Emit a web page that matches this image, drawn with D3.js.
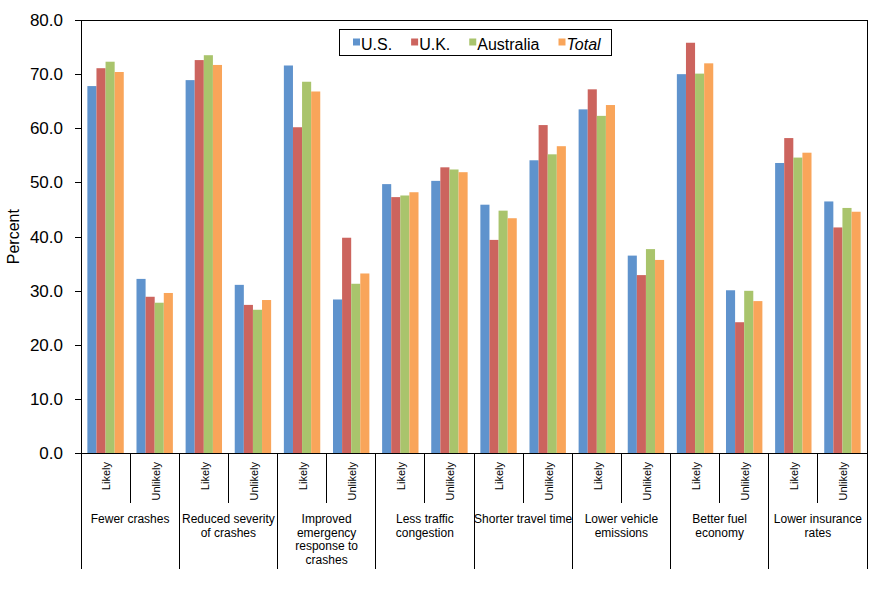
<!DOCTYPE html>
<html>
<head>
<meta charset="utf-8">
<script src="https://cdn.jsdelivr.net/npm/d3@7"></script>
<style>
  html, body { margin: 0; padding: 0; background: #fff; }
  svg { display: block; font-family: "Liberation Sans", Arial, sans-serif; }
</style>
</head>
<body>
<svg id="chart" width="893" height="595"></svg>
<script>
// ---------- DATA ----------
const groups = [
  ["Fewer crashes"],
  ["Reduced severity", "of crashes"],
  ["Improved", "emergency", "response to", "crashes"],
  ["Less traffic", "congestion"],
  ["Shorter travel time"],
  ["Lower vehicle", "emissions"],
  ["Better fuel", "economy"],
  ["Lower insurance", "rates"]
];
const responses = ["Likely", "Unlikely"];
const seriesNames = ["U.S.", "U.K.", "Australia", "Total"];
// values per sub-category: (group1 Likely, group1 Unlikely, group2 Likely, ...)
const usValues        = [67.8, 32.2, 68.9, 31.1, 71.6, 28.4, 49.7, 50.3, 45.9, 54.1, 63.5, 36.5, 70.0, 30.1, 53.6, 46.5];
const ukValues        = [71.1, 28.9, 72.6, 27.4, 60.2, 39.8, 47.3, 52.8, 39.4, 60.6, 67.2, 32.9, 75.8, 24.2, 58.2, 41.7];
const australiaValues = [72.3, 27.8, 73.5, 26.5, 68.6, 31.3, 47.6, 52.4, 44.8, 55.2, 62.3, 37.7, 70.1, 30.0, 54.6, 45.3];
const totalValues     = [70.4, 29.6, 71.7, 28.3, 66.8, 33.2, 48.2, 51.9, 43.4, 56.7, 64.3, 35.7, 72.0, 28.1, 55.5, 44.6];
const yTicks = [0, 10, 20, 30, 40, 50, 60, 70, 80];

// ---------- LAYOUT ----------
const colors = ["#5F93CD", "#CC645E", "#A9C46C", "#F9A55A"];
const plotLeft = 81, plotRight = 867, plotTop = 20, plotBottom = 453.3;

const svg = d3.select("#chart");

const subCats = [];
groups.forEach((g, gi) => responses.forEach((r, ri) => subCats.push({ id: gi + "-" + ri, g: gi, r: r })));
const seriesValues = [usValues, ukValues, australiaValues, totalValues];

const x0 = d3.scaleBand().domain(subCats.map(d => d.id)).range([plotLeft, plotRight]).padding(0);
const x1 = d3.scaleBand().domain(seriesNames).range([0, x0.bandwidth()]).paddingInner(0).paddingOuter(0.7);
const y = d3.scaleLinear().domain([0, 80]).range([plotBottom, plotTop]);
const xg = d3.scaleBand().domain(groups.map((g, i) => i)).range([plotLeft, plotRight]).padding(0);

// bars
const barData = [];
subCats.forEach((sc, i) => seriesNames.forEach((s, si) => barData.push({ sc: sc.id, s: s, si: si, v: seriesValues[si][i] })));
svg.append("g").selectAll("rect").data(barData).join("rect")
  .attr("x", d => x0(d.sc) + x1(d.s))
  .attr("y", d => y(d.v))
  .attr("width", x1.bandwidth())
  .attr("height", d => y(0) - y(d.v))
  .attr("fill", d => colors[d.si]);

// plot border
svg.append("rect")
  .attr("x", plotLeft).attr("y", plotTop)
  .attr("width", plotRight - plotLeft).attr("height", plotBottom - plotTop)
  .attr("fill", "none").attr("stroke", "#000").attr("stroke-width", 1)
  .attr("shape-rendering", "crispEdges");

// y axis
const yAxis = d3.axisLeft(y).tickValues(yTicks).tickFormat(d3.format(".1f")).tickSize(6).tickPadding(12);
const gy = svg.append("g").attr("transform", `translate(${plotLeft},0)`).call(yAxis);
gy.select(".domain").attr("stroke", "#000").attr("shape-rendering", "crispEdges");
gy.selectAll(".tick line").attr("stroke", "#000").attr("shape-rendering", "crispEdges");
gy.selectAll(".tick text").attr("font-size", 17).attr("fill", "#000")
  .attr("font-family", "'Liberation Sans', Arial, sans-serif");

svg.append("text")
  .attr("transform", `translate(19,${(plotTop + plotBottom) / 2}) rotate(-90)`)
  .attr("text-anchor", "middle")
  .attr("font-size", 16)
  .text("Percent");

// x axis: sub-category separators
const sepG = svg.append("g").attr("stroke", "#000").attr("shape-rendering", "crispEdges");
subCats.forEach((sc, i) => {
  if (i % 2 === 1) {
    const xx = x0(sc.id);
    sepG.append("line").attr("x1", xx).attr("x2", xx).attr("y1", plotBottom).attr("y2", 503);
  }
});
groups.forEach((g, gi) => {
  const xx = xg(gi);
  sepG.append("line").attr("x1", xx).attr("x2", xx).attr("y1", plotBottom).attr("y2", 569);
});
sepG.append("line").attr("x1", plotRight).attr("x2", plotRight).attr("y1", plotBottom).attr("y2", 569);

// Likely / Unlikely labels
svg.append("g").selectAll("text").data(subCats).join("text")
  .attr("transform", d => `translate(${x0(d.id) + x0.bandwidth() / 2 + 1},462) rotate(-90)`)
  .attr("text-anchor", "end")
  .attr("dy", "0.35em")
  .attr("font-size", 11)
  .text(d => d.r);

// group labels
const gl = svg.append("g").selectAll("text").data(groups).join("text")
  .attr("x", (d, i) => xg(i) + xg.bandwidth() / 2)
  .attr("y", 523)
  .attr("text-anchor", "middle")
  .attr("font-size", 12);
gl.each(function(lines) {
  const t = d3.select(this);
  const cx = t.attr("x");
  lines.forEach((ln, li) => t.append("tspan").attr("x", cx).attr("dy", li === 0 ? 0 : 13.6).text(ln));
});

// legend
const legend = svg.append("g");
legend.append("rect")
  .attr("x", 339).attr("y", 29).attr("width", 272).attr("height", 26)
  .attr("fill", "#fff").attr("stroke", "#000").attr("stroke-width", 1)
  .attr("shape-rendering", "crispEdges");
let lx = 353;
seriesNames.forEach((s, i) => {
  legend.append("rect").attr("x", lx).attr("y", 38.5).attr("width", 7).attr("height", 7).attr("fill", colors[i]);
  const t = legend.append("text").attr("x", lx + 8).attr("y", 49.5).attr("font-size", 16)
    .attr("font-style", s === "Total" ? "italic" : "normal").text(s);
  lx = lx + 8 + t.node().getComputedTextLength() + 19;
});
</script>
</body>
</html>
